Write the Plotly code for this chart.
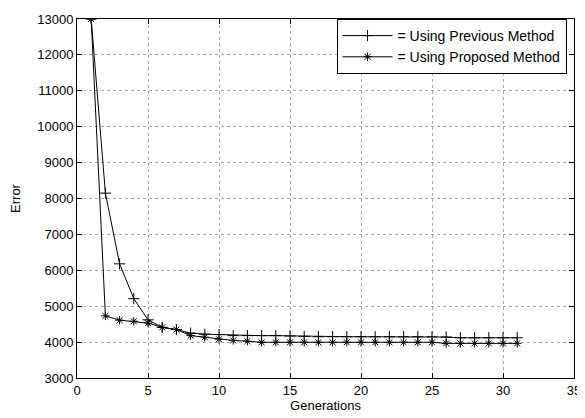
import plotly.graph_objects as go

generations = list(range(1, 32))
previous_method = [13000, 8150, 6180, 5210, 4620, 4410, 4350, 4250, 4220, 4210,
                   4180, 4180, 4180, 4180, 4170, 4160, 4150, 4150, 4150, 4150,
                   4150, 4150, 4150, 4150, 4150, 4140, 4120, 4120, 4120, 4120, 4120]
proposed_method = [13000, 4730, 4610, 4580, 4530, 4410, 4350, 4180, 4137, 4080,
                   4047, 4025, 3995, 3995, 3995, 3995, 3995, 3995, 3995, 3995,
                   3995, 3995, 3995, 3995, 3995, 3965, 3965, 3965, 3965, 3965, 3965]

FAMILY = "Liberation Sans, Arial, sans-serif"
tick_font = dict(family=FAMILY, size=13, color="black")
title_font = dict(family=FAMILY, size=13, color="black")

fig = go.Figure()
fig.add_trace(go.Scatter(
    x=generations, y=previous_method, mode="lines+markers",
    name="= Using Previous Method",
    line=dict(color="black", width=1),
    marker=dict(symbol="cross-thin", size=8, color="black",
                line=dict(color="black", width=1)),
))
fig.add_trace(go.Scatter(
    x=generations, y=proposed_method, mode="lines+markers",
    name="= Using Proposed Method",
    line=dict(color="black", width=1),
    marker=dict(symbol="asterisk", size=7, color="black",
                line=dict(color="black", width=1)),
))

axis_common = dict(
    showline=True, linecolor="black", linewidth=1, mirror="ticks",
    ticks="inside", ticklen=5, tickcolor="black",
    showgrid=True, gridcolor="#a8a8a8", griddash="dot", gridwidth=1,
    zeroline=False, tickfont=tick_font, tickformat="d",
    ticklabeloverflow="allow",
)

fig.update_layout(
    width=577, height=410,
    margin=dict(l=69, r=7, t=4, b=40),
    paper_bgcolor="white", plot_bgcolor="white",
    font=tick_font,
    showlegend=True,
    legend=dict(
        x=0.985, y=1.0, xanchor="right", yanchor="top",
        bgcolor="white", bordercolor="black", borderwidth=1,
        font=dict(family=FAMILY, size=14, color="black"),
        tracegroupgap=0, itemwidth=50,
    ),
    xaxis=dict(range=[0, 35], dtick=5, tick0=0,
               title=dict(text="Generations", font=title_font, standoff=3),
               **axis_common),
    yaxis=dict(range=[3000, 13000], dtick=1000, tick0=3000,
               title=dict(text="Error", font=title_font, standoff=14),
               **axis_common),
)

fig.write_html("out.html")
